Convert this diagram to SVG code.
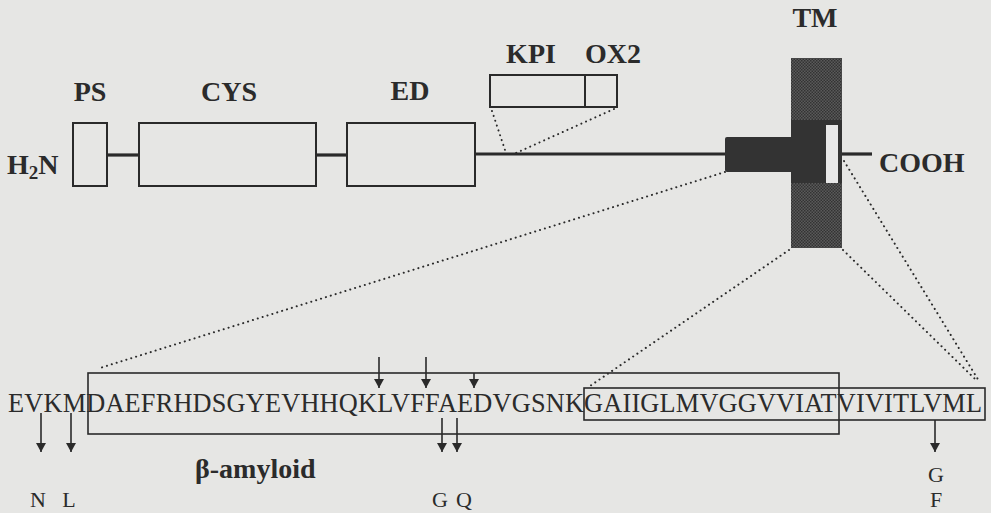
<svg xmlns="http://www.w3.org/2000/svg" width="991" height="513" viewBox="0 0 991 513">
<style>
.bg{fill:#e6e6e4}
.box{fill:none;stroke:#2a2a2a;stroke-width:2}
.sbox{fill:none;stroke:#2a2a2a;stroke-width:1.6}
.bb{stroke:#2a2a2a;stroke-width:3.2;fill:none}
.dot{stroke:#2a2a2a;stroke-width:2;fill:none;stroke-dasharray:0.1 5;stroke-linecap:round}
.arr{stroke:#2a2a2a;stroke-width:1.6;fill:none;marker-end:url(#ah)}
.lbl{font-family:"Liberation Serif","Times New Roman",serif;font-weight:bold;font-size:28px;fill:#2b2b2b}
.seq{font-family:"Liberation Serif","Times New Roman",serif;font-size:26.3px;fill:#2b2b2b}
.mut{font-family:"Liberation Serif","Times New Roman",serif;font-size:22px;fill:#2b2b2b;text-anchor:middle}
</style>
<defs>
<marker id="ah" markerWidth="10" markerHeight="10" refX="9" refY="5" orient="auto" markerUnits="userSpaceOnUse" viewBox="0 0 10 10">
<path d="M0,0 L9,5 L0,10 Z" fill="#2a2a2a"/>
</marker>
<pattern id="hatch" width="3" height="3" patternUnits="userSpaceOnUse">
<rect width="3" height="3" fill="#5a5a5a"/>
<rect width="1.5" height="1.5" fill="#333"/>
<rect x="1.5" y="1.5" width="1.5" height="1.5" fill="#333"/>
</pattern>
</defs>
<rect class="bg" x="0" y="0" width="991" height="513"/>

<g id="connectors">
<line class="bb" x1="107" y1="155" x2="139" y2="155"/>
<line class="bb" x1="316" y1="155" x2="347" y2="155"/>
<line class="bb" x1="475" y1="154" x2="726" y2="154"/>
<line class="bb" x1="842" y1="154" x2="872" y2="154"/>
<line class="dot" x1="492" y1="111" x2="506" y2="153"/>
<line class="dot" x1="614" y1="109" x2="516" y2="153"/>
<line class="dot" x1="725" y1="172" x2="100" y2="368"/>
<line class="dot" x1="789" y1="250" x2="590" y2="386"/>
<line class="dot" x1="843" y1="250" x2="975" y2="379"/>
<line class="dot" x1="844" y1="161" x2="979" y2="381"/>
</g>

<g id="h2n"><text class="lbl" x="7" y="174">H<tspan font-size="19" dy="5">2</tspan><tspan dy="-5">N</tspan></text></g>
<g id="ps">
<text class="lbl" x="90" y="101" text-anchor="middle">PS</text>
<rect class="box" x="73" y="123" width="34" height="63"/>
</g>
<g id="cys">
<text class="lbl" x="229" y="101" text-anchor="middle">CYS</text>
<rect class="box" x="139" y="123" width="177" height="63"/>
</g>
<g id="ed">
<text class="lbl" x="410" y="100" text-anchor="middle">ED</text>
<rect class="box" x="347" y="123" width="128" height="63"/>
</g>
<g id="kpi-ox2">
<text class="lbl" x="531" y="63" text-anchor="middle">KPI</text>
<text class="lbl" x="613" y="63" text-anchor="middle">OX2</text>
<rect class="box" x="490" y="75" width="127" height="32"/>
<line class="box" x1="585" y1="75" x2="585" y2="107"/>
</g>
<g id="tm">
<text class="lbl" x="815" y="27" text-anchor="middle">TM</text>
<rect x="791" y="58" width="51" height="190" fill="url(#hatch)"/>
<rect x="725" y="137" width="70" height="35" rx="2" fill="#333"/>
<rect x="791" y="120" width="51" height="63" fill="#333"/>
<rect x="826" y="125" width="12" height="58" fill="#e8e8e8"/>
</g>
<g id="cooh"><text class="lbl" x="879" y="172" font-size="30">COOH</text></g>

<g id="sequence">
<rect class="sbox" x="88" y="373" width="751" height="61"/>
<rect class="sbox" x="584" y="388" width="401" height="32"/>
<text class="seq" x="8" y="412" textLength="974" lengthAdjust="spacing">EVKMDAEFRHDSGYEVHHQKLVFFAEDVGSNKGAIIGLMVGGVVIATVIVITLVML</text>
<text class="lbl" x="195" y="478" font-size="24">β-amyloid</text>
</g>

<g id="arrows">
<line class="arr" x1="379" y1="357" x2="379" y2="388"/>
<line class="arr" x1="426" y1="357" x2="426" y2="388"/>
<line class="arr" x1="474" y1="373" x2="474" y2="388"/>
<line class="arr" x1="41" y1="413" x2="41" y2="452"/>
<line class="arr" x1="71" y1="413" x2="71" y2="452"/>
<line class="arr" x1="442" y1="418" x2="442" y2="452"/>
<line class="arr" x1="457" y1="418" x2="457" y2="452"/>
<line class="arr" x1="935" y1="420" x2="935" y2="452"/>
</g>

<g id="mutations">
<text class="mut" x="38" y="507">N</text>
<text class="mut" x="69" y="507">L</text>
<text class="mut" x="440" y="507">G</text>
<text class="mut" x="464" y="507">Q</text>
<text class="mut" x="936" y="482">G</text>
<text class="mut" x="936" y="507">F</text>
</g>
</svg>
